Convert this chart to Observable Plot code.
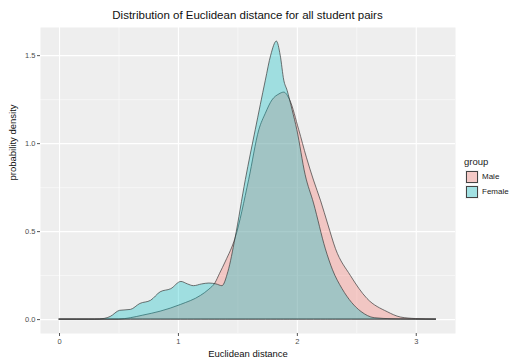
<!DOCTYPE html>
<html>
<head>
<meta charset="utf-8">
<script src="https://cdn.jsdelivr.net/npm/d3@7"></script>
<script src="https://cdn.jsdelivr.net/npm/@observablehq/plot@0.6"></script>
<style>
  body { margin: 0; background: white; }
  #wrap { position: relative; width: 513px; height: 362px; font-family: "Liberation Sans", Arial, sans-serif; }
  #title { height: 22px; line-height: 22px; font-size: 11.5px; color: #111; text-align: center; width: 495px; padding-top: 4px; box-sizing: border-box; }
  #legend { position: absolute; left: 465px; top: 156px; font-size: 8px; color: #222; }
  #legend .ttl { font-size: 9.5px; margin-bottom: 2px; margin-left: -1px; }
  #legend .row { display: flex; align-items: center; height: 15px; }
  #legend .key { width: 14px; height: 14px; box-sizing: border-box; background: #F2F2F2; position: relative; margin-right: 3px; }
  #legend .key span { position: absolute; left: 1px; top: 1px; right: 1px; bottom: 1px; border: 0.7px solid #444; }
</style>
</head>
<body>
<div id="wrap">
  <div id="title">Distribution of Euclidean distance for all student pairs</div>
  <div id="chart"></div>
  <div id="legend"></div>
</div>
<script>
// Series and labels
const groups = ["Male", "Female"];
const groupColors = ["#F8766D", "#00BFC4"];

const maleX = [0, 0.5, 0.6, 0.7, 0.85, 1.02, 1.19, 1.26, 1.31, 1.35, 1.40, 1.48, 1.595, 1.68, 1.735, 1.79, 1.85, 1.89, 1.94, 2.016, 2.08, 2.14, 2.2, 2.26, 2.325, 2.45, 2.59, 2.76, 2.87, 3.0, 3.17];
const maleY = [0, 0, 0.008, 0.022, 0.045, 0.083, 0.135, 0.17, 0.205, 0.26, 0.33, 0.46, 0.794, 1.076, 1.17, 1.245, 1.28, 1.29, 1.245, 1.076, 0.92, 0.79, 0.672, 0.54, 0.4, 0.248, 0.117, 0.042, 0.012, 0.003, 0];

const femaleX = [0, 0.3, 0.38, 0.43, 0.51, 0.6, 0.68, 0.77, 0.85, 0.94, 1.025, 1.08, 1.13, 1.2, 1.26, 1.32, 1.37, 1.42, 1.48, 1.567, 1.65, 1.735, 1.78, 1.828, 1.86, 1.89, 1.918, 1.96, 2.0, 2.07, 2.14, 2.24, 2.3, 2.38, 2.46, 2.54, 2.65, 2.8, 3.0, 3.17];
const femaleY = [0, 0, 0.004, 0.015, 0.05, 0.055, 0.089, 0.107, 0.155, 0.173, 0.214, 0.2, 0.19, 0.2, 0.205, 0.2, 0.19, 0.27, 0.46, 0.794, 1.076, 1.358, 1.5, 1.58, 1.5, 1.358, 1.3, 1.19, 1.076, 0.82, 0.66, 0.399, 0.28, 0.173, 0.095, 0.043, 0.008, 0.002, 0, 0];

const xTicks = [0, 1, 2, 3];
const xMinor = [0.5, 1.5, 2.5];
const yTicks = [0, 0.5, 1, 1.5];
const yMinor = [0.25, 0.75, 1.25];

const xTitle = "Euclidean distance";
const yTitle = "probability density";

const male = maleX.map((x, i) => ({x, y: maleY[i]}));
const female = femaleX.map((x, i) => ({x, y: femaleY[i]}));

const alpha = 0.33;
const chart = Plot.plot({
  width: 513,
  height: 340,
  marginLeft: 40,
  marginRight: 58,
  marginTop: 5,
  marginBottom: 29,
  x: {domain: [-0.16, 3.33]},
  y: {domain: [-0.079, 1.66]},
  style: {fontFamily: "Liberation Sans, Arial, sans-serif", fontSize: "7.5px", color: "#4D4D4D", background: "white"},
  marks: [
    Plot.frame({fill: "#EEEEEE", stroke: null}),
    Plot.gridX(xMinor, {stroke: "white", strokeOpacity: 1, strokeWidth: 0.5}),
    Plot.gridY(yMinor, {stroke: "white", strokeOpacity: 1, strokeWidth: 0.5}),
    Plot.gridX(xTicks, {stroke: "white", strokeOpacity: 1, strokeWidth: 1.1}),
    Plot.gridY(yTicks, {stroke: "white", strokeOpacity: 1, strokeWidth: 1.1}),
    Plot.areaY(male, {x: "x", y: "y", fill: groupColors[0], fillOpacity: alpha, stroke: "#3a3a3a", strokeWidth: 0.7, curve: "monotone-x"}),
    Plot.areaY(female, {x: "x", y: "y", fill: groupColors[1], fillOpacity: alpha, stroke: "#3a3a3a", strokeWidth: 0.7, curve: "monotone-x"}),
    Plot.axisX(xTicks, {tickSize: 3, tickPadding: 2, label: null, tickFormat: d3.format("d"), stroke: "#555"}),
    Plot.axisY(yTicks, {tickSize: 3, tickPadding: 2, label: null, tickFormat: d3.format(".1f"), stroke: "#555"}),
    Plot.text([xTitle], {frameAnchor: "bottom", dy: 23, fontSize: 9.5, fill: "#111"}),
    Plot.text([yTitle], {frameAnchor: "left", dx: -28, rotate: -90, fontSize: 9.5, fill: "#111"})
  ]
});
document.getElementById("chart").appendChild(chart);

const leg = document.getElementById("legend");
const t = document.createElement("div");
t.className = "ttl";
t.textContent = "group";
leg.appendChild(t);
groups.forEach((g, i) => {
  const row = document.createElement("div");
  row.className = "row";
  const key = document.createElement("div");
  key.className = "key";
  const sw = document.createElement("span");
  const c = d3.color(groupColors[i]); c.opacity = alpha;
  sw.style.background = c.formatRgb();
  key.appendChild(sw);
  const lab = document.createElement("div");
  lab.textContent = g;
  row.appendChild(key);
  row.appendChild(lab);
  leg.appendChild(row);
});
</script>
</body>
</html>
